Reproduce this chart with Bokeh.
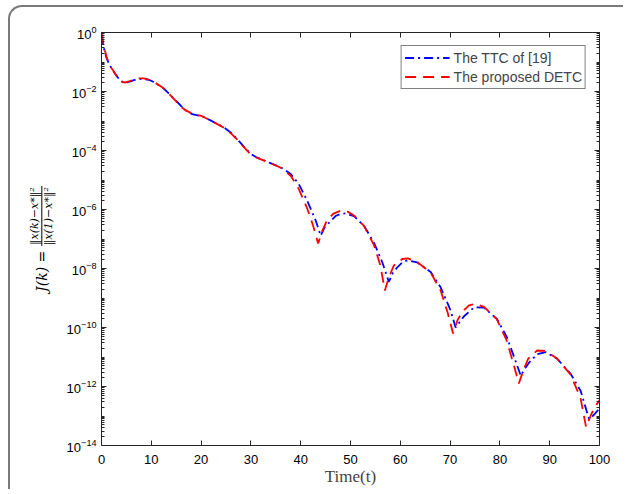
from bokeh.plotting import figure
from bokeh.layouts import row
from bokeh.models import (Range1d, FixedTicker, LinearAxis, LogAxis, LogTickFormatter,
                          CustomJSTickFormatter, Legend, LegendItem, Div)
from bokeh.embed import file_html
from bokeh.resources import INLINE

# ---- data ----
t_ttc = [0, 0.3, 0.6, 1.0, 1.5, 2.0, 2.5, 3.0, 3.5, 4.0, 4.7, 5.5, 6.1, 7.0, 8.2, 9.5, 10.5,
         12.2, 13.5, 14.9, 16.0, 16.9, 18.2, 20.2, 21.9, 23.0, 24.5, 26.0, 27.2, 28.5, 29.9,
         31.0, 31.9, 34.3, 36.0, 38.0, 39.6, 41.3, 43.0, 44.0, 44.8, 46.0, 47.0, 48.0, 49.0,
         50.7, 52.7, 54.7, 56.4, 57.7, 58.5, 59.4, 60.5, 61.5, 63.4, 66.1, 68.1, 70.1, 71.1,
         72.0, 72.8, 74.8, 76.8, 79.4, 81.4, 83.1, 84.2, 85.0, 85.8, 87.5, 89.2, 91.5, 94.2,
         96.2, 97.9, 98.9, 100]
J_ttc = [7.9e-1, 4.0e-1, 2.4e-1, 1.4e-1, 8.7e-2, 6.0e-2, 4.6e-2, 3.4e-2, 2.7e-2, 2.2e-2,
         1.95e-2, 2.1e-2, 2.3e-2, 2.6e-2, 2.7e-2, 2.5e-2, 2.1e-2, 1.4e-2, 8.7e-3, 5.0e-3,
         3.2e-3, 2.3e-3, 1.7e-3, 1.45e-3, 1.05e-3, 8.3e-4, 6.2e-4, 4.0e-4, 2.5e-4, 1.4e-4,
         7.8e-5, 6.0e-5, 5.2e-5, 3.5e-5, 2.7e-5, 1.6e-5, 7.4e-6, 2.0e-6, 4.3e-7, 1.3e-7,
         2.5e-7, 4.0e-7, 6.0e-7, 7.1e-7, 7.4e-7, 6.0e-7, 2.8e-7, 7.6e-8, 1.6e-8, 3.5e-9,
         7.1e-9, 1.1e-8, 1.66e-8, 1.9e-8, 1.6e-8, 7.6e-9, 2.3e-9, 3.8e-10, 1.0e-10, 1.6e-10,
         2.4e-10, 4.8e-10, 4.7e-10, 1.95e-10, 4.7e-11, 7.6e-12, 2.3e-12, 4.0e-12, 6.3e-12,
         1.26e-11, 1.45e-11, 8.7e-12, 2.7e-12, 7.2e-13, 7.9e-14, 1.1e-13, 1.8e-13]

t_detc = [0, 0.3, 0.6, 1.0, 1.5, 2.0, 2.5, 3.0, 3.5, 4.0, 4.7, 5.5, 6.5, 7.5, 8.5, 9.5, 10.5,
          12.2, 13.5, 14.9, 16.0, 16.9, 18.2, 20.2, 21.9, 23.0, 24.5, 26.0, 27.2, 28.5, 29.9,
          31.0, 31.9, 34.3, 36.0, 38.0, 39.6, 41.3, 42.5, 43.5, 44.3, 45.2, 46.5, 48.0, 49.5,
          50.7, 52.7, 54.7, 56.0, 56.9, 57.7, 58.7, 60.4, 61.5, 63.4, 66.1, 68.1, 69.5, 70.6,
          71.5, 72.5, 73.8, 75.1, 76.8, 79.4, 81.4, 83.0, 83.8, 84.7, 85.7, 87.5, 89.2, 91.5,
          94.2, 96.2, 97.3, 98.3, 99.2, 100]
J_detc = [1.0e0, 5.0e-1, 2.8e-1, 1.5e-1, 8.9e-2, 6.3e-2, 4.7e-2, 3.5e-2, 2.6e-2, 2.2e-2,
          2.0e-2, 2.2e-2, 2.5e-2, 2.8e-2, 2.8e-2, 2.5e-2, 2.1e-2, 1.4e-2, 8.5e-3, 4.8e-3,
          3.0e-3, 2.3e-3, 1.8e-3, 1.45e-3, 1.05e-3, 8.3e-4, 6.0e-4, 3.8e-4, 2.4e-4, 1.35e-4,
          7.6e-5, 5.9e-5, 5.1e-5, 3.5e-5, 2.6e-5, 1.4e-5, 5.0e-6, 1.1e-6, 2.8e-7, 7.1e-8,
          1.8e-7, 4.0e-7, 7.1e-7, 9.1e-7, 8.3e-7, 6.3e-7, 2.8e-7, 6.3e-8, 1.26e-8, 1.8e-9,
          5.0e-9, 1.26e-8, 2.1e-8, 2.2e-8, 1.66e-8, 7.2e-9, 1.8e-9, 3.2e-10, 6.3e-11, 1.8e-10,
          3.5e-10, 5.6e-10, 6.3e-10, 5.0e-10, 1.9e-10, 3.5e-11, 4.0e-12, 1.26e-12, 3.5e-12,
          8.9e-12, 1.66e-11, 1.6e-11, 8.9e-12, 2.5e-12, 4.0e-13, 4.2e-14, 1.1e-13, 2.2e-13,
          3.4e-13]

x_ticks = [0, 10, 20, 30, 40, 50, 60, 70, 80, 90, 100]
y_ticks = [1e0, 1e-2, 1e-4, 1e-6, 1e-8, 1e-10, 1e-12, 1e-14]
series_names = ["The TTC of [19]", "The proposed DETC"]
x_label = "Time(t)"
y_label_lhs = "J(k) ="
y_label_num = "\u2016x(k)\u2212x*\u2016\u00b2"
y_label_den = "\u2016x(1)\u2212x*\u2016\u00b2"

# ---- styling ----
AX = "#262626"
FONT = "Liberation Sans"
y_minor = [k * 10.0 ** n for n in range(-14, 0) for k in range(1, 10)
           if not (k == 1 and n % 2 == 0)]

# page layout: content origin at (10, 7); frame occupies page x 101..599, y 32..445
OX, OY = 10, 7
DIV_W = 50
FR_L, FR_R, FR_T, FR_B = 101, 599, 32, 445
W, H = 563, 482
fig_left = OX + DIV_W

p = figure(width=W, height=H, output_backend="svg", toolbar_location=None,
           x_range=Range1d(0, 100), y_range=Range1d(1e-14, 1e0), y_axis_type="log",
           min_border_left=FR_L - fig_left, min_border_right=W - (FR_R - fig_left),
           min_border_top=FR_T - OY, min_border_bottom=H - (FR_B - OY))
p.margin = 0
p.background_fill_color = "white"
p.border_fill_color = "white"
p.outline_line_color = None
p.xgrid.visible = False
p.ygrid.visible = False

blue = p.line(t_ttc, J_ttc, line_color="#0000ff", line_width=1.8, line_dash="9 4 2 4")
red = p.line(t_detc, J_detc, line_color="#ff0000", line_width=1.8, line_dash="11 7")

def style_axis(ax):
    ax.axis_line_color = AX
    ax.axis_line_width = 1
    ax.major_tick_line_color = AX
    ax.minor_tick_line_color = AX
    ax.major_tick_in = 5
    ax.major_tick_out = 0
    ax.minor_tick_in = 3
    ax.minor_tick_out = 0
    ax.major_label_text_font = FONT
    ax.major_label_text_font_size = "13px"
    ax.major_label_text_color = "black"

xa = p.xaxis[0]
xa.ticker = FixedTicker(ticks=x_ticks)
style_axis(xa)
xa.major_label_standoff = 9
xa.axis_label = x_label
xa.axis_label_text_font = "Liberation Serif"
xa.axis_label_text_font_style = "normal"
xa.axis_label_text_font_size = "17px"
xa.axis_label_standoff = 0

ya = p.yaxis[0]
ya.ticker = FixedTicker(ticks=y_ticks, minor_ticks=y_minor)
ya.formatter = LogTickFormatter()
style_axis(ya)
ya.major_label_standoff = 5

blank = CustomJSTickFormatter(code="return ''")
top = LinearAxis(ticker=FixedTicker(ticks=x_ticks), formatter=blank)
style_axis(top)
top.major_label_standoff = 0
p.add_layout(top, "above")
right = LogAxis(ticker=FixedTicker(ticks=y_ticks, minor_ticks=y_minor), formatter=blank)
style_axis(right)
right.major_label_standoff = 0
p.add_layout(right, "right")

legend = Legend(items=[LegendItem(label=series_names[0], renderers=[blue]),
                       LegendItem(label=series_names[1], renderers=[red])],
                location="top_right", margin=13, padding=3, spacing=2,
                glyph_width=45, glyph_height=17, label_height=17, label_standoff=4,
                label_text_font=FONT, label_text_font_size="14px",
                border_line_color="black", border_line_width=1,
                background_fill_color="white", background_fill_alpha=1)
p.add_layout(legend, "center")

# y-axis label as a rotated fraction (HTML text)
cx, cy = 42 - OX, 239 - OY
ylabel_html = (
    f'<div style="position:relative;width:{DIV_W}px;height:{H}px;">'
    f'<div style="position:absolute;left:{cx}px;top:{cy}px;'
    'transform:translate(-50%,-50%) rotate(-90deg);white-space:nowrap;'
    "font-family:'DejaVu Serif';font-style:italic;font-size:14px;color:black;line-height:1;\">"
    f'<span style="vertical-align:middle;">{y_label_lhs}</span> '
    '<span style="display:inline-block;vertical-align:middle;text-align:center;'
    'font-size:11px;line-height:1.2;">'
    f'<span style="display:block;border-bottom:1px solid black;padding:0 1px;">{y_label_num}</span>'
    f'<span style="display:block;padding:0 1px;">{y_label_den}</span>'
    '</span></div></div>'
)
ydiv = Div(text=ylabel_html, width=DIV_W, height=H, margin=0)

layout = row(ydiv, p)
layout.margin = 0
layout.spacing = 0
layout.styles = {"margin-left": "8px", "margin-top": "5px",
                 "border-top": "2px solid #7a7a7a", "border-left": "2px solid #7a7a7a",
                 "border-top-left-radius": "14px", "background": "white"}

open("out.html", "w").write(file_html(layout, INLINE))
